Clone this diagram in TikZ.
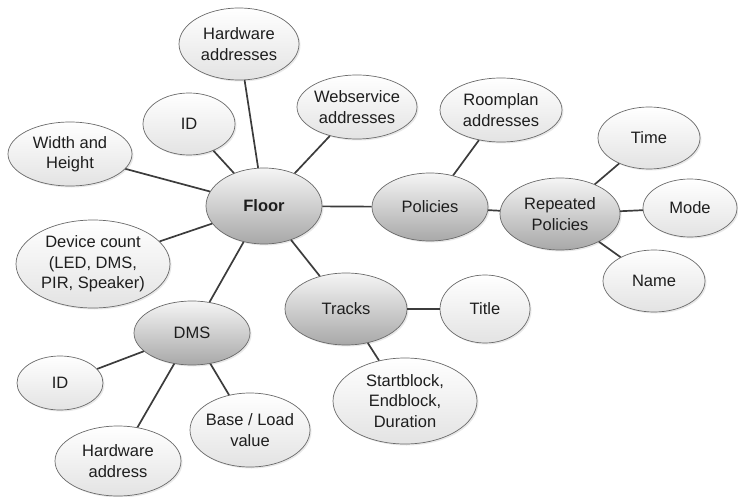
\documentclass[tikz,border=0pt]{standalone}
\usepackage{fontspec}
\setmainfont{Liberation Sans}
\usetikzlibrary{shapes.geometric,shadows}
\definecolor{edgecol}{HTML}{3C3C3C}
\definecolor{bordercol}{HTML}{6A6A6A}
\definecolor{txtcol}{HTML}{1E1E1E}
\begin{document}
\begin{tikzpicture}[x=1pt,y=-1pt,
  base/.style={ellipse, draw=bordercol, line width=0.7pt, inner xsep=-8pt, inner ysep=-2pt,
    align=center, font=\fontsize{16.5}{20.5}\selectfont, text=txtcol,
    drop shadow={shadow xshift=1.5pt, shadow yshift=-1.5pt, opacity=0.18}},
  leaf/.style={base, top color=white, bottom color=black!11},
  hub/.style={base, top color=black!4, bottom color=black!34},
  link/.style={draw=edgecol, line width=1.7pt}]
\useasboundingbox (0,0) rectangle (738,497);
% hubs
\node[hub, minimum width=116, minimum height=76] (floor) at (264,206) {\textbf{Floor}};
\node[hub, minimum width=116, minimum height=68] (pol) at (430,207) {Policies};
\node[hub, minimum width=120, minimum height=72] (rep) at (560,214) {Repeated\\Policies};
\node[hub, minimum width=122, minimum height=72] (tracks) at (346,309) {Tracks};
\node[hub, minimum width=116, minimum height=64] (dms) at (192,333) {DMS};
% leaves
\node[leaf, minimum width=120, minimum height=72] (hwa) at (239,44) {Hardware\\addresses};
\node[leaf, minimum width=92, minimum height=62] (idA) at (189,124) {ID};
\node[leaf, minimum width=124, minimum height=64] (wh) at (70,154) {Width and\\Height};
\node[leaf, minimum width=120, minimum height=64] (ws) at (357,107) {Webservice\\addresses};
\node[leaf, minimum width=154, minimum height=88] (dev) at (93,264) {Device count\\(LED, DMS,\\PIR, Speaker)};
\node[leaf, minimum width=122, minimum height=64] (room) at (501,110) {Roomplan\\addresses};
\node[leaf, minimum width=102, minimum height=62] (time) at (649,138) {Time};
\node[leaf, minimum width=94, minimum height=58] (mode) at (690,208) {Mode};
\node[leaf, minimum width=102, minimum height=62] (name) at (654,281) {Name};
\node[leaf, minimum width=90, minimum height=68] (title) at (485,309) {Title};
\node[leaf, minimum width=144, minimum height=86] (start) at (405,401) {Startblock,\\Endblock,\\Duration};
\node[leaf, minimum width=86, minimum height=54] (idB) at (60,383) {ID};
\node[leaf, minimum width=126, minimum height=70] (hwb) at (118,461) {Hardware\\address};
\node[leaf, minimum width=120, minimum height=74] (baseload) at (250,430) {Base / Load\\value};
% connectors
\draw[link] (floor) -- (hwa);
\draw[link] (floor) -- (idA);
\draw[link] (floor) -- (wh);
\draw[link] (floor) -- (ws);
\draw[link] (floor) -- (dev);
\draw[link] (floor) -- (pol);
\draw[link] (floor) -- (tracks);
\draw[link] (floor) -- (dms);
\draw[link] (pol) -- (room);
\draw[link] (pol) -- (rep);
\draw[link] (rep) -- (time);
\draw[link] (rep) -- (mode);
\draw[link] (rep) -- (name);
\draw[link] (tracks) -- (title);
\draw[link] (tracks) -- (start);
\draw[link] (dms) -- (idB);
\draw[link] (dms) -- (hwb);
\draw[link] (dms) -- (baseload);
\end{tikzpicture}
\end{document}
